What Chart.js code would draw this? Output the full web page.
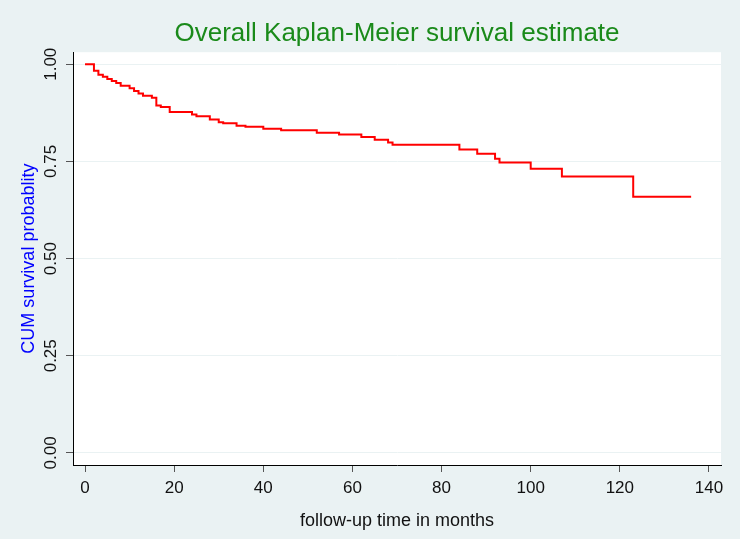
<!DOCTYPE html>
<html>
<head>
<meta charset="utf-8">
<script src="https://cdn.jsdelivr.net/npm/chart.js@4"></script>
<style>
  body { margin: 0; background: #eaf2f3; }
</style>
</head>
<body>
<canvas id="kmChart" width="740" height="539"></canvas>
<script>
// 生存時間（月）と累積生存率
const months = [0, 2, 3, 4, 5, 6, 7, 8, 10, 11, 12, 13, 15, 16, 17, 19, 24, 25, 28, 30, 31, 34, 36, 40, 44,
  52, 57, 62, 65, 68, 69, 84, 88, 92, 93, 100, 107, 123, 136];
const survival = [1.000, 0.983, 0.973, 0.968, 0.962, 0.957, 0.952, 0.945, 0.938, 0.931, 0.925, 0.919, 0.914,
  0.894, 0.890, 0.877, 0.871, 0.866, 0.858, 0.851, 0.848, 0.842, 0.839, 0.834, 0.830,
  0.824, 0.819, 0.813, 0.806, 0.799, 0.793, 0.781, 0.770, 0.757, 0.747, 0.731, 0.711, 0.659, 0.659];

// 軸の目盛り
const xTicks = [0, 20, 40, 60, 80, 100, 120, 140];
const yTicks = [0, 0.25, 0.5, 0.75, 1];

const points = months.map((m, i) => ({ x: m, y: survival[i] }));

// 背景色とプロット領域の塗りつぶし
const bgPlugin = {
  id: 'bgPlugin',
  beforeDraw(chart) {
    const { ctx, chartArea } = chart;
    ctx.save();
    ctx.fillStyle = '#eaf2f3';
    ctx.fillRect(0, 0, chart.width, chart.height);
    ctx.fillStyle = '#ffffff';
    ctx.fillRect(chartArea.left, chartArea.top, chartArea.right - chartArea.left, chartArea.bottom - chartArea.top);
    ctx.restore();
  }
};

const ctx = document.getElementById('kmChart').getContext('2d');
const kmChart = new Chart(ctx, {
  type: 'line',
  data: {
    datasets: [{
      data: points,
      borderColor: '#ff0000',
      borderWidth: 2,
      pointRadius: 0,
      stepped: 'before',
      fill: false
    }]
  },
  options: {
    responsive: false,
    animation: false,
    layout: { padding: { left: 0, right: 19, top: 0, bottom: 0 } },
    plugins: {
      legend: { display: false },
      tooltip: { enabled: false },
      title: {
        display: true,
        fullSize: false,
        text: 'Overall Kaplan-Meier survival estimate',
        color: '#1a8a1a',
        font: { family: 'Liberation Sans, Arial, sans-serif', size: 26, weight: 'normal' },
        padding: { top: 18, bottom: 3 }
      }
    },
    scales: {
      x: {
        type: 'linear',
        min: -2.7,
        max: 142.7,
        afterBuildTicks: (scale) => { scale.ticks = xTicks.map(v => ({ value: v })); },
        afterFit: (scale) => { scale.height = 74; },
        border: { display: true, color: '#000000', width: 1 },
        grid: { display: true, drawOnChartArea: false, drawTicks: true, tickLength: 7, tickColor: '#555555' },
        ticks: {
          color: '#111111',
          padding: 6,
          maxRotation: 0,
          font: { family: 'Liberation Sans, Arial, sans-serif', size: 17 }
        },
        title: {
          display: true,
          text: 'follow-up time in months',
          color: '#111111',
          font: { family: 'Liberation Sans, Arial, sans-serif', size: 18 },
          padding: { top: 4, bottom: 7 }
        }
      },
      y: {
        type: 'linear',
        min: -0.031,
        max: 1.031,
        afterBuildTicks: (scale) => { scale.ticks = yTicks.map(v => ({ value: v })); },
        afterFit: (scale) => { scale.width = 73; },
        border: { display: true, color: '#000000', width: 1 },
        grid: { display: true, color: '#eaf2f3', lineWidth: 1, drawTicks: true, tickLength: 7, tickColor: '#555555' },
        ticks: {
          color: '#111111',
          minRotation: 90,
          maxRotation: 90,
          crossAlign: 'center',
          padding: -1.5,
          font: { family: 'Liberation Sans, Arial, sans-serif', size: 17 },
          callback: (v) => Number(v).toFixed(2)
        },
        title: {
          display: true,
          text: 'CUM survival probablity',
          color: '#0000ff',
          font: { family: 'Liberation Sans, Arial, sans-serif', size: 18 },
          padding: { top: 18, bottom: 0 }
        }
      }
    }
  },
  plugins: [bgPlugin]
});
</script>
</body>
</html>
